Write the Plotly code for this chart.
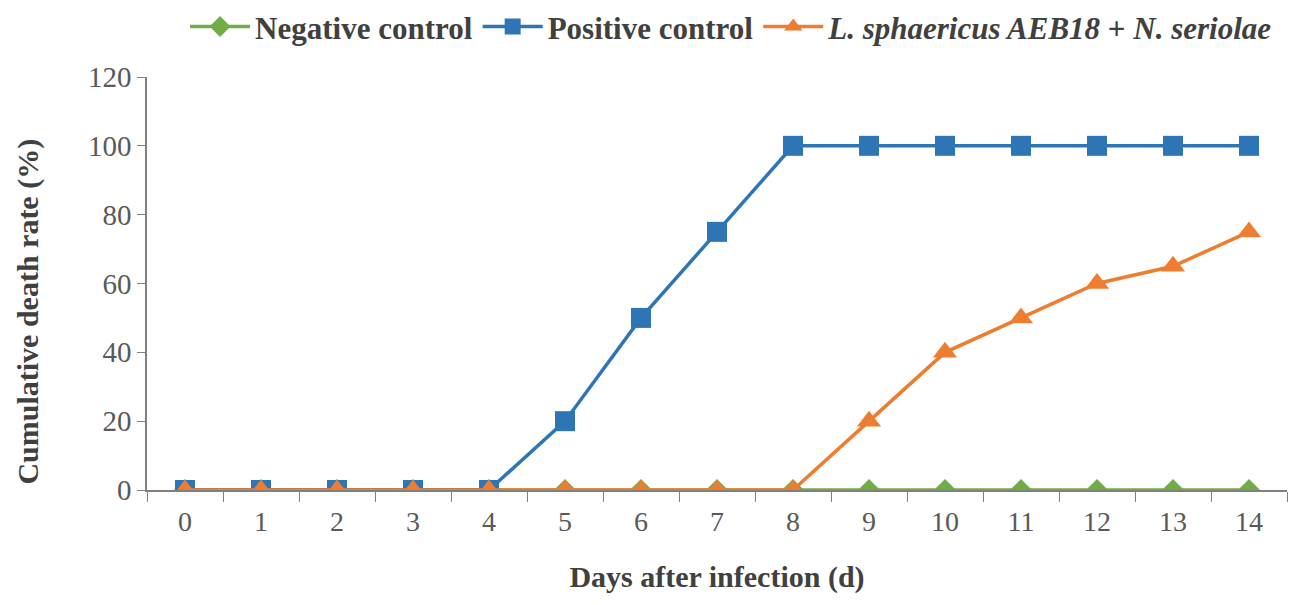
import plotly.graph_objects as go

days = [str(d) for d in range(15)]
negative = [0] * 15
positive = [0, 0, 0, 0, 0, 20, 50, 75, 100, 100, 100, 100, 100, 100, 100]
treated = [0, 0, 0, 0, 0, 0, 0, 0, 0, 20, 40, 50, 60, 65, 75]

y_ticks = [0, 20, 40, 60, 80, 100, 120]

GREEN = '#70AD47'
BLUE = '#2E75B6'
ORANGE = '#ED7D31'
FONT = 'Liberation Serif'

fig = go.Figure()
fig.add_trace(go.Scatter(
    x=days, y=negative, name='<b>Negative control</b>', mode='lines+markers',
    line=dict(color=GREEN, width=3.5),
    marker=dict(symbol='diamond', size=17, color=GREEN)
))
fig.add_trace(go.Scatter(
    x=days, y=positive, name='<b>Positive control</b>', mode='lines+markers',
    line=dict(color=BLUE, width=3.5),
    marker=dict(symbol='square', size=20, color=BLUE)
))
fig.add_trace(go.Scatter(
    x=days, y=treated, name='<b><i>L. sphaericus AEB18</i> + <i>N. seriolae</i></b>',
    mode='lines+markers',
    line=dict(color=ORANGE, width=3.5),
    marker=dict(symbol='triangle-up', size=21, color=ORANGE)
))

fig.update_layout(
    width=1283, height=589,
    margin=dict(l=139, r=4, t=69, b=107),
    paper_bgcolor='white', plot_bgcolor='white',
    font=dict(family=FONT, size=28, color='#595959'),
    legend=dict(orientation='h', xref='container', yref='container',
                x=0.138, xanchor='left', y=0.968, yanchor='middle',
                font=dict(family=FONT, size=31, color='#404040'),
                itemwidth=60, tracegroupgap=0),
    showlegend=True,
    annotations=[dict(
        text='<b>Cumulative death rate (%)</b>', textangle=-90,
        xref='paper', yref='paper', x=-0.104, y=0.433,
        xanchor='center', yanchor='middle', showarrow=False,
        font=dict(family=FONT, size=30, color='#404040')
    )],
)
fig.update_xaxes(
    type='category', range=[-0.5, 14.5], tickson='boundaries',
    ticks='outside', ticklen=10, ticklabelstandoff=6,
    tickcolor='#808080', showline=True, linecolor='#808080', linewidth=1.5,
    showgrid=False, zeroline=False, tickfont=dict(size=28),
    title=dict(text='<b>Days after infection (d)</b>', standoff=30,
               font=dict(family=FONT, size=30, color='#404040'))
)
fig.update_yaxes(
    range=[0, 120], tickvals=y_ticks, ticks='outside', ticklen=8,
    tickcolor='#808080', showline=True, linecolor='#808080', linewidth=1.5,
    showgrid=False, zeroline=False, tickfont=dict(size=29)
)

fig.write_html('out.html')
